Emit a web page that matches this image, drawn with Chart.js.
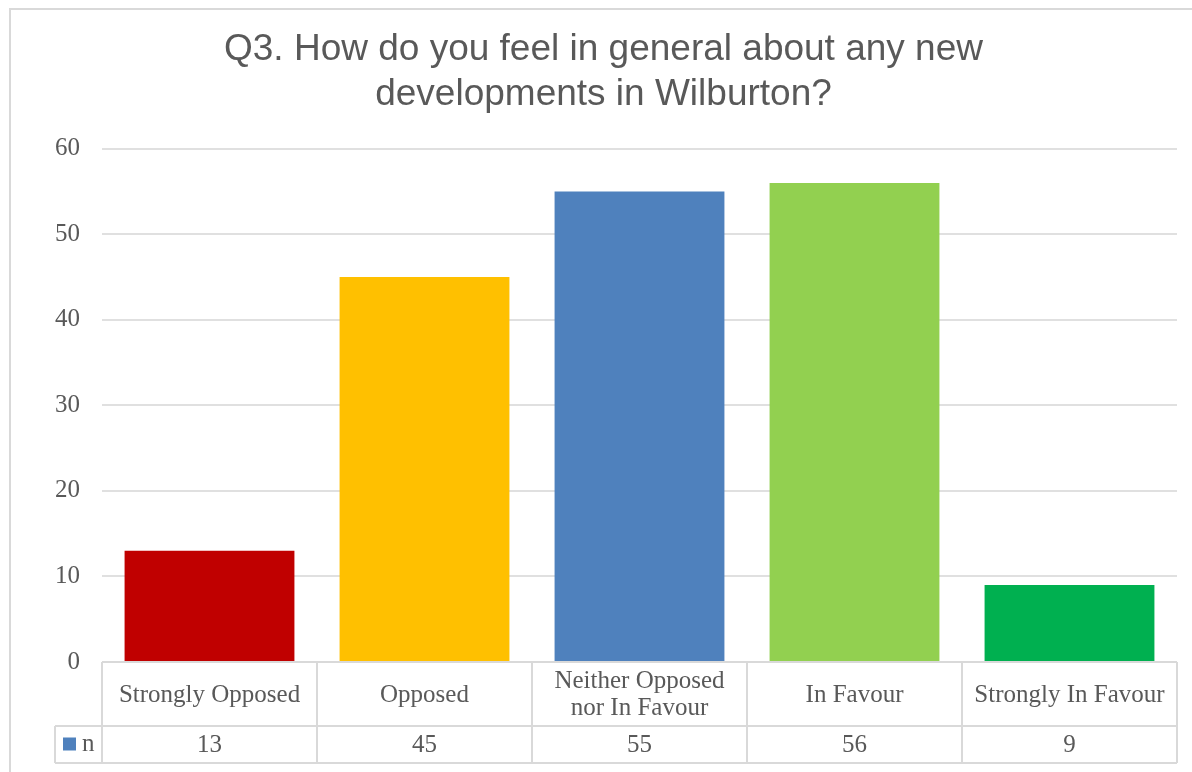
<!DOCTYPE html>
<html>
<head>
<meta charset="utf-8">
<script src="https://cdn.jsdelivr.net/npm/chart.js@4/dist/chart.umd.min.js"></script>
<style>
    html, body { margin: 0; padding: 0; background: #fff; overflow: hidden; }
    #frame { position: absolute; left: 9px; top: 8px; width: 1300px; height: 900px; border: 2px solid #d9d9d9; }
    #wrap { position: absolute; left: 0; top: 0; width: 1192px; height: 772px; }
</style>
</head>
<body>
<div id="frame"></div>
<div id="wrap"><canvas id="q3Chart" width="1192" height="772"></canvas></div>
<script>
// بيانات السؤال الثالث
const categories = ['Strongly Opposed', 'Opposed', ['Neither Opposed', 'nor In Favour'], 'In Favour', 'Strongly In Favour'];
const counts = [13, 45, 55, 56, 9];
const seriesName = 'n';
const barColors = ['#C00000', '#FFC000', '#4F81BD', '#92D050', '#00B050'];
const yMin = 0;
const yMax = 60;
const yStep = 10;

const textColor = '#595959';
const lineColor = '#d9d9d9';
const serif = "'Liberation Serif', 'Times New Roman', serif";

// جدول البيانات أسفل المحور
const dataTablePlugin = {
    id: 'dataTable',
    afterDraw(chart) {
        const ctx = chart.ctx;
        const area = chart.chartArea;
        const x = chart.scales.x;
        const n = categories.length;
        const colW = (area.right - area.left) / n;
        const top = area.bottom;
        const mid = top + 64;
        const bot = top + 101;
        const keyLeft = 55;

        ctx.save();
        ctx.strokeStyle = lineColor;
        ctx.lineWidth = 2;
        ctx.beginPath();
        ctx.moveTo(area.left, top);
        ctx.lineTo(area.right, top);
        ctx.moveTo(keyLeft, mid);
        ctx.lineTo(area.right, mid);
        ctx.moveTo(keyLeft, bot);
        ctx.lineTo(area.right, bot);
        ctx.moveTo(keyLeft, mid);
        ctx.lineTo(keyLeft, bot);
        for (let i = 0; i <= n; i++) {
            const lx = area.left + i * colW;
            ctx.moveTo(lx, top);
            ctx.lineTo(lx, bot);
        }
        ctx.stroke();

        ctx.fillStyle = textColor;
        ctx.font = '25px ' + serif;
        ctx.textAlign = 'center';
        ctx.textBaseline = 'middle';
        categories.forEach(function(label, i) {
            const cx = x.getPixelForValue(i);
            const lines = Array.isArray(label) ? label : [label];
            const lh = 27;
            const y0 = (top + mid) / 2 + 1 - (lines.length - 1) * lh / 2;
            lines.forEach(function(line, j) {
                ctx.fillText(line, cx, y0 + j * lh);
            });
            ctx.fillText(String(counts[i]), cx, (mid + bot) / 2 + 1);
        });

        // مفتاح السلسلة
        ctx.fillStyle = barColors[2];
        ctx.fillRect(63, (mid + bot) / 2 - 7, 13, 13);
        ctx.fillStyle = textColor;
        ctx.textAlign = 'left';
        ctx.fillText(seriesName, 82, (mid + bot) / 2);
        ctx.restore();
    }
};

document.addEventListener('DOMContentLoaded', function() {
    const q3Ctx = document.getElementById('q3Chart');
    new Chart(q3Ctx, {
        type: 'bar',
        data: {
            labels: categories,
            datasets: [{
                label: seriesName,
                data: counts,
                backgroundColor: barColors,
                borderWidth: 0,
                categoryPercentage: 1,
                barPercentage: 0.79
            }]
        },
        options: {
            responsive: false,
            animation: false,
            layout: {
                padding: { top: 0, right: 15, bottom: 110, left: 30 }
            },
            plugins: {
                legend: { display: false },
                tooltip: { enabled: false },
                title: {
                    display: true,
                    text: ['Q3. How do you feel in general about any new', 'developments in Wilburton?'],
                    color: textColor,
                    font: { family: "'Liberation Sans', Arial, sans-serif", size: 37, weight: 'normal', lineHeight: 1.2 },
                    padding: { top: 28, bottom: 32 }
                }
            },
            scales: {
                x: {
                    display: false
                },
                y: {
                    min: yMin,
                    max: yMax,
                    afterFit: function(scale) { scale.width = 72; },
                    border: { display: false },
                    grid: { color: '#e0e0e0', lineWidth: 2, drawTicks: false },
                    ticks: {
                        stepSize: yStep,
                        padding: 22,
                        color: textColor,
                        font: { family: serif, size: 25 }
                    }
                }
            }
        },
        plugins: [dataTablePlugin]
    });
});
</script>
</body>
</html>
